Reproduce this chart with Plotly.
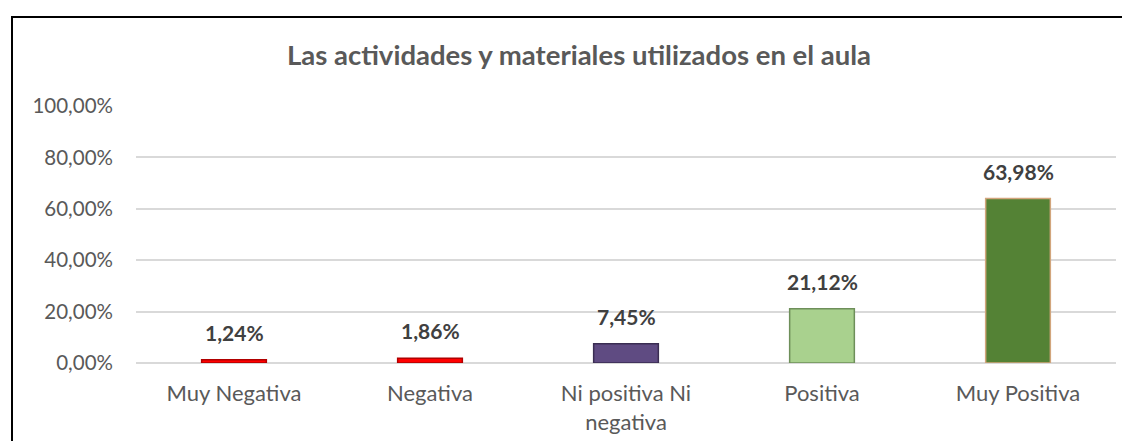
import plotly.graph_objects as go

categories = ["Muy Negativa", "Negativa", "Ni positiva Ni negativa", "Positiva", "Muy Positiva"]
category_labels = ["Muy Negativa", "Negativa", "Ni positiva Ni<br>negativa", "Positiva", "Muy Positiva"]
values = [1.24, 1.86, 7.45, 21.12, 63.98]
bar_colors = ["#FF0000", "#FF0000", "#5F4B82", "#A9D18E", "#548235"]
bar_edges = ["#B00000", "#B00000", "#3A2D52", "#6E8F5A", "#D2A57C"]
tick_vals = [0, 20, 40, 60, 80, 100]
tick_text = ["0,00%", "20,00%", "40,00%", "60,00%", "80,00%", "100,00%"]
title_text = "Las actividades y materiales utilizados en el aula"

FONT = "Lato"
W, H = 1130, 441
L, R, T, B = 128, 22, 98, 86
plot_w = W - L - R
plot_h = H - T - B

fig = go.Figure()
fig.add_trace(go.Bar(
    x=categories,
    y=values,
    marker=dict(color=bar_colors, line=dict(color=bar_edges, width=1.5)),
    hoverinfo="skip",
))

for c, v in zip(categories, values):
    fig.add_annotation(
        x=c, y=v, xref="x", yref="y",
        text="<b>" + f"{v:.2f}".replace(".", ",") + "%</b>",
        showarrow=False, yanchor="bottom", yshift=13,
        font=dict(family=FONT, size=21, color="#404040"),
    )

# chart frame (top and left edges visible in the crop)
fig.add_shape(
    type="rect", xref="paper", yref="paper",
    x0=(4 - L) / plot_w, x1=(W + 20 - L) / plot_w,
    y0=-(B + 20) / plot_h, y1=(H - B - 9) / plot_h,
    line=dict(color="#000000", width=2), fillcolor="rgba(0,0,0,0)", layer="above",
)

fig.update_layout(
    width=W, height=H,
    margin=dict(l=L, r=R, t=T, b=B, pad=0),
    paper_bgcolor="white", plot_bgcolor="white",
    showlegend=False,
    bargap=0.67,
    title=dict(
        text="<b>" + title_text + "</b>",
        x=571 / W, xanchor="center", xref="container",
        y=1 - 47 / H, yanchor="middle", yref="container",
        font=dict(family=FONT, size=27.5, color="#595959"),
    ),
    xaxis=dict(
        type="category",
        tickvals=categories, ticktext=category_labels,
        showgrid=False, showline=False, zeroline=False,
        ticks="", ticklabelstandoff=15,
        tickfont=dict(family=FONT, size=22, color="#595959"),
    ),
    yaxis=dict(
        range=[0, 100],
        tickvals=tick_vals, ticktext=tick_text,
        showgrid=True, gridcolor="#D9D9D9", gridwidth=1.5,
        zeroline=True, zerolinecolor="#D9D9D9", zerolinewidth=1.5,
        showline=False, ticks="", ticklabelstandoff=22,
        tickfont=dict(family=FONT, size=20.5, color="#595959"),
    ),
)

fig.write_html("out.html")
